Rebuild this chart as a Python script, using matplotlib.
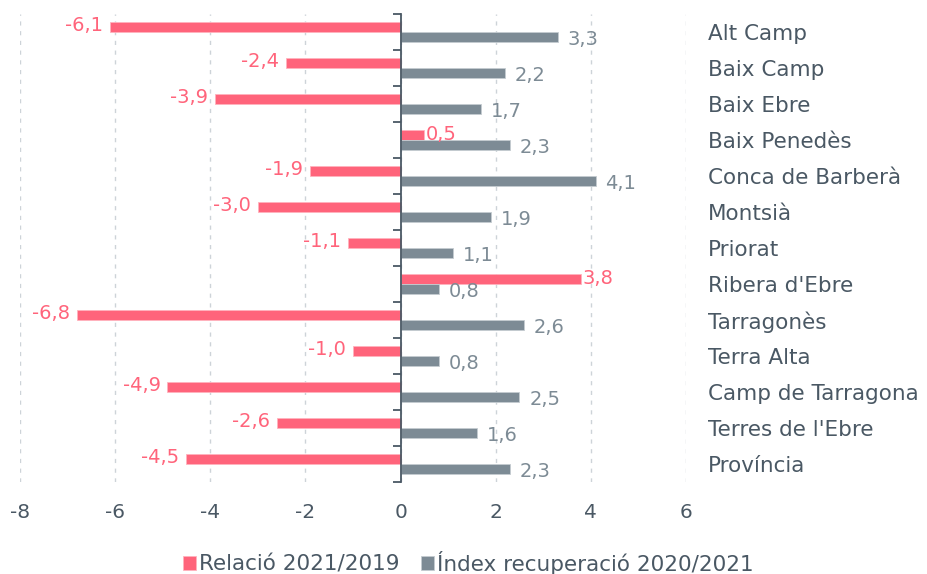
import matplotlib
matplotlib.use("Agg")
import matplotlib.pyplot as plt
import numpy as np

categories = ["Alt Camp", "Baix Camp", "Baix Ebre", "Baix Penedès", "Conca de Barberà",
              "Montsià", "Priorat", "Ribera d'Ebre", "Tarragonès", "Terra Alta",
              "Camp de Tarragona", "Terres de l'Ebre", "Província"]
relacio = [-6.1, -2.4, -3.9, 0.5, -1.9, -3.0, -1.1, 3.8, -6.8, -1.0, -4.9, -2.6, -4.5]
index_rec = [3.3, 2.2, 1.7, 2.3, 4.1, 1.9, 1.1, 0.8, 2.6, 0.8, 2.5, 1.6, 2.3]
series_names = ["Relació 2021/2019", "Índex recuperació 2020/2021"]
xticks = [-8, -6, -4, -2, 0, 2, 4, 6]

PINK = "#FF647B"
GREY = "#7D8B95"
TEXT = "#4A5864"
FS_VAL = 14
FS_CAT = 15.5
FS_TICK = 14.5

plt.rcParams['font.family'] = ['DejaVu Sans']

fig = plt.figure(figsize=(9.28, 5.74), dpi=100)
ax = fig.add_axes([20/928, 1-482/574, 666/928, 468/574])

y = np.arange(len(categories))
h = 0.29
off = 0.145
ax.barh(y - off, relacio, height=h, color=PINK, edgecolor="#FFB3BE", linewidth=0.6, zorder=3,
        label=series_names[0])
ax.barh(y + off, index_rec, height=h, color=GREY, edgecolor="#C5CCD1", linewidth=0.6, zorder=3,
        label=series_names[1])

for yi, v in zip(y, relacio):
    if v < 0:
        ax.annotate(f"{v:.1f}".replace(".", ","), (v, yi - off), xytext=(-5, 1),
                    textcoords="offset points", ha="right", va="center", color=PINK, fontsize=FS_VAL)
    else:
        ax.annotate(f"{v:.1f}".replace(".", ","), (v, yi - off), xytext=(1, 0),
                    textcoords="offset points", ha="left", va="center", color=PINK, fontsize=FS_VAL)
for yi, v in zip(y, index_rec):
    ax.annotate(f"{v:.1f}".replace(".", ","), (v, yi + off), xytext=(7, -2),
                textcoords="offset points", ha="left", va="center", color=GREY, fontsize=FS_VAL)

ax.set_xlim(-8, 6)
ax.set_ylim(len(categories) - 0.5, -0.5)
ax.set_xticks(xticks)
ax.set_xticklabels([str(t) for t in xticks])
ax.tick_params(axis="x", length=0, pad=15, labelsize=FS_TICK, labelcolor=TEXT)

ax.set_yticks(y)
ax.set_yticklabels(categories)
ax.set_yticks(np.arange(len(categories) + 1) - 0.5, minor=True)
ax.tick_params(axis="y", which="major", left=False, right=False, labelleft=False,
               labelright=True, pad=12, labelsize=FS_CAT, labelcolor=TEXT)
ax.tick_params(axis="y", which="minor", left=True, right=False, length=6, width=1.3,
               color=TEXT, direction="out")

for s in ["top", "right", "bottom"]:
    ax.spines[s].set_visible(False)
ax.spines["left"].set_position(("data", 0))
ax.spines["left"].set_color(TEXT)
ax.spines["left"].set_linewidth(1.3)
ax.spines["left"].set_zorder(4)

ax.grid(axis="x", color="#CDD3D8", linestyle=(0, (3, 4)), linewidth=1.0, zorder=0)
ax.set_axisbelow(True)

leg = fig.legend(loc="lower center", bbox_to_anchor=(0.505, -0.035), ncol=2, frameon=False,
                 fontsize=FS_CAT, handlelength=0.6, handleheight=0.6, handletextpad=0.15,
                 columnspacing=1.0)
for t in leg.get_texts():
    t.set_color(TEXT)

fig.savefig("out.png", dpi=100)
